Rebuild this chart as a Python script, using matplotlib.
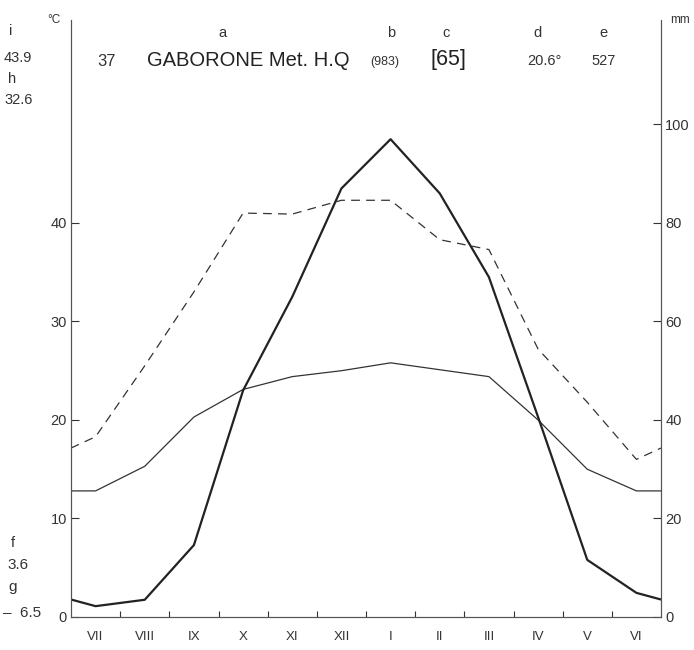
import numpy as np
import matplotlib
matplotlib.use("Agg")
from matplotlib import pyplot as plt

months = ["VII", "VIII", "IX", "X", "XI", "XII", "I", "II", "III", "IV", "V", "VI"]
# mean monthly temperature (degC)
temp = [12.8, 15.3, 20.3, 23.1, 24.4, 25.0, 25.8, 25.1, 24.4, 20.0, 15.0, 12.8]
# dashed curve (degC scale)
temp_max = [18.3, 25.5, 33.0, 41.0, 40.9, 42.3, 42.3, 38.3, 37.3, 27.2, 21.8, 16.0]
# precipitation (mm)
prec = [2.2, 3.5, 14.6, 46.0, 65.0, 87.0, 97.0, 86.0, 69.0, 40.6, 11.6, 4.9]

narrow = ['Liberation Sans Narrow', 'Liberation Sans', 'DejaVu Sans']
plt.rcParams['font.family'] = narrow
ink = '#333333'


def closed(vals):
    # month centres plus the edges (average of VI and VII)
    edge = (vals[0] + vals[-1]) / 2.0
    x = np.concatenate([[0], np.arange(12) + 0.5, [12]])
    y = np.concatenate([[edge], vals, [edge]])
    return x, y


fig = plt.figure(figsize=(6.94, 6.5), dpi=100)
ax = fig.add_axes([71/694, 33/650, 590/694, 597/650])
ax2 = ax.twinx()

x, y = closed(temp)
ax.plot(x, y, color=ink, lw=0.9)
x, y = closed(temp_max)
ax.plot(x, y, color=ink, lw=0.9, dashes=(7, 5))
x, y = closed(prec)
ax2.plot(x, y, color='#222222', lw=1.6)

ax.set_xlim(0, 12)
ax.set_ylim(0, 60.6)
ax2.set_ylim(0, 121.2)

for a in (ax, ax2):
    a.spines['top'].set_visible(False)
    for s in ('left', 'right', 'bottom'):
        a.spines[s].set_color('#555555')
        a.spines[s].set_linewidth(0.8)
        a.spines[s].set_linestyle((0, (2, 1)))

ax.set_xticks(np.arange(1, 12))
ax.set_xticklabels([])
ax.set_xticks(np.arange(12) + 0.5, minor=True)
ax.set_xticklabels(months, minor=True, fontsize=9.5, color=ink)
ax.tick_params(axis='x', which='major', direction='in', length=4, color=ink)
ax.tick_params(axis='x', which='minor', length=0, pad=10)

ax.set_yticks([0, 10, 20, 30, 40])
ax.set_yticklabels(['0', '10', '20', '30', '40'], fontsize=10.5, color=ink)
ax.tick_params(axis='y', direction='in', length=6, color=ink, pad=3)

ax2.set_yticks([0, 20, 40, 60, 80, 100])
ax2.set_yticklabels(['0', '20', '40', '60', '80', '100'], fontsize=10.5, color=ink)
ax2.tick_params(axis='y', direction='in', length=6, color=ink, pad=3)


def ftext(px, py, s, **kw):
    kw.setdefault('color', ink)
    kw.setdefault('fontsize', 10.5)
    fig.text(px/694, 1 - py/650, s, va='center', **kw)


# upper left corner
ftext(9, 31, "i")
ftext(47, 20, "°C", fontsize=8.5)
ftext(4, 58, "43.9")
ftext(8, 79, "h")
ftext(4, 100, "32.6")
ftext(670, 20, "mm", fontsize=8.5)

# header letters
for lx, lt in [(222, "a"), (391, "b"), (446, "c"), (537, "d"), (603, "e")]:
    ftext(lx, 33, lt, ha='center', fontsize=10.5)

# header values
ftext(97, 61, "37", fontsize=12)
ftext(147, 60, "GABORONE Met. H.Q", fontsize=14.5, color='#222222',
      family=['Liberation Sans', 'DejaVu Sans'])
ftext(370, 62, "(983)", fontsize=9)
ftext(431, 60, "[65]", fontsize=15.5, color='#222222',
      family=['Liberation Sans', 'DejaVu Sans'])
ftext(527, 61, "20.6°", fontsize=10.5)
ftext(591, 61, "527", fontsize=10.5)

# lower left corner
ftext(11, 543, "f")
ftext(7, 565, "3.6", fontsize=11)
ftext(8, 587, "g", fontsize=11)
ftext(3, 613, "–  6.5", fontsize=11)

fig.savefig("out.png", dpi=100, facecolor='white')
